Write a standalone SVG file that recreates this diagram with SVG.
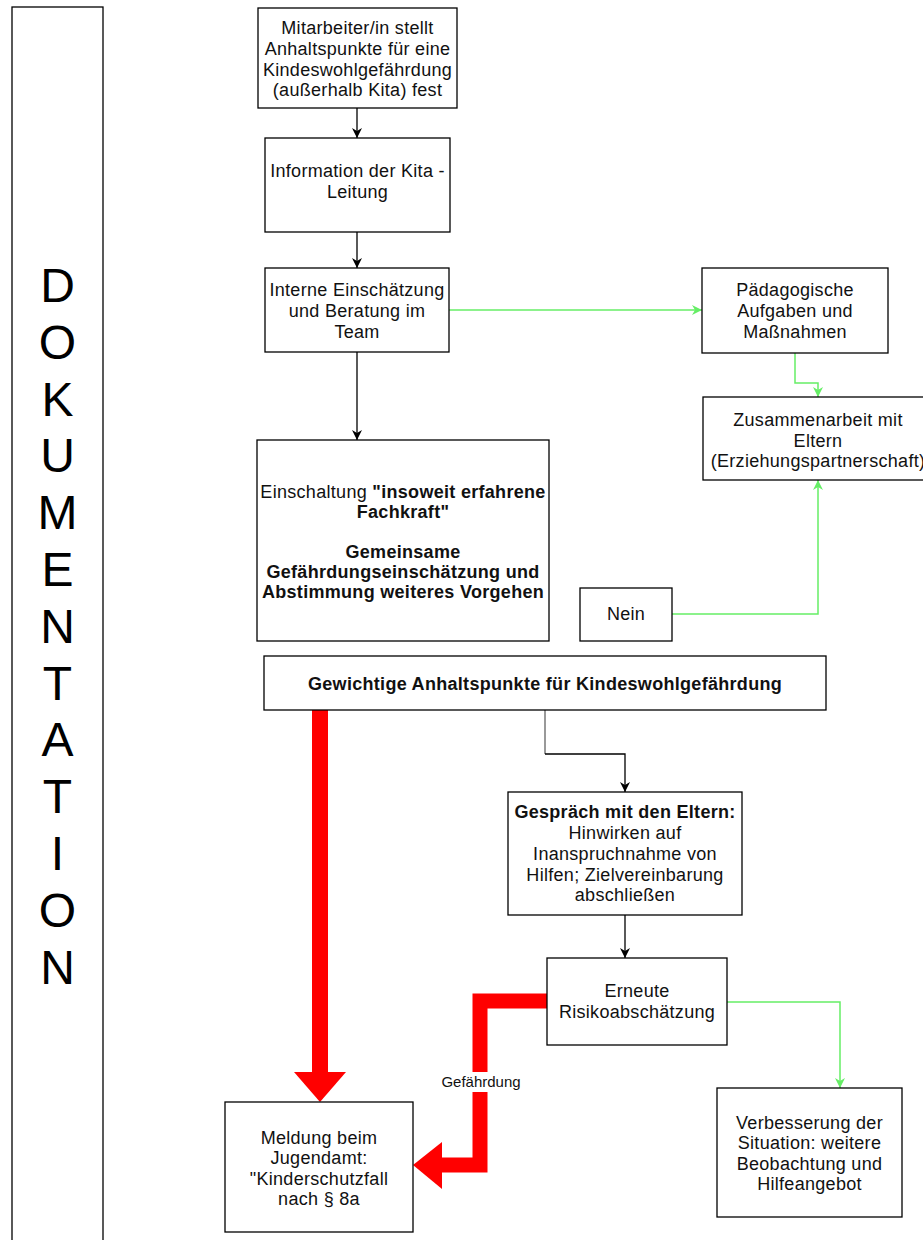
<svg xmlns="http://www.w3.org/2000/svg" width="923" height="1240" viewBox="0 0 923 1240">
<style>
.box{fill:#fff;stroke:#000;stroke-width:1.3}
.t{font-family:"Liberation Sans",Arial,sans-serif;font-size:18px;fill:#111;text-anchor:middle;letter-spacing:0.3px}
.b{font-weight:bold}
.doc{font-family:"Liberation Sans",Arial,sans-serif;font-size:48px;fill:#000;text-anchor:middle}
.blk{fill:none;stroke:#000;stroke-width:1.3}
.grn{fill:none;stroke:#66ee66;stroke-width:1.5}
.red{fill:none;stroke:#ff0000;stroke-width:15;stroke-linejoin:miter}
.lbl{font-family:"Liberation Sans",Arial,sans-serif;font-size:15px;fill:#111;text-anchor:middle}
</style>
<defs>
<marker id="ab" markerUnits="userSpaceOnUse" markerWidth="12" markerHeight="12" viewBox="0 0 12 12" refX="11" refY="6" orient="auto"><path d="M1,1 L11,6 L1,11 L4,6 Z" fill="#000"/></marker>
<marker id="ag" markerUnits="userSpaceOnUse" markerWidth="12" markerHeight="12" viewBox="0 0 12 12" refX="11" refY="6" orient="auto"><path d="M1,1 L11,6 L1,11 L4,6 Z" fill="#66ee66"/></marker>
</defs>
<rect width="923" height="1240" fill="#fff"/>

<g id="dokumentation">
<rect x="12" y="7" width="91" height="1260" class="box"/>
<text class="doc" x="57.5" y="302">D</text>
<text class="doc" x="57.5" y="358.8">O</text>
<text class="doc" x="57.5" y="415.6">K</text>
<text class="doc" x="57.5" y="472.4">U</text>
<text class="doc" x="57.5" y="529.2">M</text>
<text class="doc" x="57.5" y="586">E</text>
<text class="doc" x="57.5" y="642.8">N</text>
<text class="doc" x="57.5" y="699.6">T</text>
<text class="doc" x="57.5" y="756.4">A</text>
<text class="doc" x="57.5" y="813.2">T</text>
<text class="doc" x="57.5" y="870">I</text>
<text class="doc" x="57.5" y="926.8">O</text>
<text class="doc" x="57.5" y="983.6">N</text>
</g>

<g id="connectors">
<path class="blk" d="M357,108 L357,138" marker-end="url(#ab)"/>
<path class="blk" d="M357,232 L357,268" marker-end="url(#ab)"/>
<path class="blk" d="M357,352 L357,440" marker-end="url(#ab)"/>
<path fill="none" stroke="#777" stroke-width="1.5" d="M545,710 L545,754"/>
<path class="blk" d="M545,754 L625,754 L625,792" marker-end="url(#ab)"/>
<path class="blk" d="M625,915 L625,958" marker-end="url(#ab)"/>
<path class="grn" d="M449,310 L702,310" marker-end="url(#ag)"/>
<path class="grn" d="M795,353 L795,383 L818,383 L818,397" marker-end="url(#ag)"/>
<path class="grn" d="M672,614 L818,614 L818,480" marker-end="url(#ag)"/>
<path class="grn" d="M727,1002 L840,1002 L840,1088" marker-end="url(#ag)"/>
<rect x="312" y="710" width="16" height="363" fill="#ff0000"/>
<polygon points="294,1072 346,1072 320,1102" fill="#ff0000"/>
<path class="red" d="M547,1001 L480,1001 L480,1165 L441,1165"/>
<polygon points="442,1142 442,1189 413,1165" fill="#ff0000"/>
<rect x="437" y="1072" width="88" height="20" fill="#fff"/>
<text class="lbl" x="481" y="1087">Gefährdung</text>
</g>

<g id="n1">
<rect x="258" y="8" width="199" height="100" class="box"/>
<text class="t"><tspan x="357.5" y="34">Mitarbeiter/in stellt</tspan><tspan x="357.5" y="55">Anhaltspunkte für eine</tspan><tspan x="357.5" y="76">Kindeswohlgefährdung</tspan><tspan x="357.5" y="96">(außerhalb Kita) fest</tspan></text>
</g>
<g id="n2">
<rect x="265" y="138" width="185" height="94" class="box"/>
<text class="t"><tspan x="357.5" y="177">Information der Kita -</tspan><tspan x="357.5" y="198">Leitung</tspan></text>
</g>
<g id="n3">
<rect x="265" y="268" width="184" height="84" class="box"/>
<text class="t"><tspan x="357" y="296">Interne Einschätzung</tspan><tspan x="357" y="317">und Beratung im</tspan><tspan x="357" y="338">Team</tspan></text>
</g>
<g id="n4">
<rect x="702" y="268" width="186" height="85" class="box"/>
<text class="t"><tspan x="795" y="296">Pädagogische</tspan><tspan x="795" y="317">Aufgaben und</tspan><tspan x="795" y="338">Maßnahmen</tspan></text>
</g>
<g id="n5">
<rect x="703" y="397" width="232" height="83" class="box"/>
<text class="t"><tspan x="818" y="426">Zusammenarbeit mit</tspan><tspan x="818" y="446.5">Eltern</tspan><tspan x="818" y="467">(Erziehungspartnerschaft)</tspan></text>
</g>
<g id="n6">
<rect x="257" y="440" width="292" height="201" class="box"/>
<text class="t"><tspan x="403" y="498">Einschaltung <tspan class="b">"insoweit erfahrene</tspan></tspan><tspan x="403" y="518" class="b">Fachkraft"</tspan><tspan x="403" y="558" class="b">Gemeinsame</tspan><tspan x="403" y="578" class="b">Gefährdungseinschätzung und</tspan><tspan x="403" y="598" class="b">Abstimmung weiteres Vorgehen</tspan></text>
</g>
<g id="n7">
<rect x="580" y="588" width="92" height="53" class="box"/>
<text class="t" x="626" y="620">Nein</text>
</g>
<g id="n8">
<rect x="264" y="656" width="562" height="54" class="box"/>
<text class="t b" x="545" y="689.5">Gewichtige Anhaltspunkte für Kindeswohlgefährdung</text>
</g>
<g id="n9">
<rect x="508" y="792" width="234" height="123" class="box"/>
<text class="t"><tspan x="625" y="818" class="b">Gespräch mit den Eltern:</tspan><tspan x="625" y="839">Hinwirken auf</tspan><tspan x="625" y="860">Inanspruchnahme von</tspan><tspan x="625" y="881">Hilfen; Zielvereinbarung</tspan><tspan x="625" y="901">abschließen</tspan></text>
</g>
<g id="n10">
<rect x="547" y="958" width="180" height="87" class="box"/>
<text class="t"><tspan x="637" y="996.5">Erneute</tspan><tspan x="637" y="1018">Risikoabschätzung</tspan></text>
</g>
<g id="n11">
<rect x="225" y="1102" width="188" height="130" class="box"/>
<text class="t"><tspan x="319" y="1143.5">Meldung beim</tspan><tspan x="319" y="1164">Jugendamt:</tspan><tspan x="319" y="1184.5">"Kinderschutzfall</tspan><tspan x="319" y="1205">nach § 8a</tspan></text>
</g>
<g id="n12">
<rect x="717" y="1088" width="185" height="129" class="box"/>
<text class="t"><tspan x="809.5" y="1128.5">Verbesserung der</tspan><tspan x="809.5" y="1149">Situation: weitere</tspan><tspan x="809.5" y="1169.5">Beobachtung und</tspan><tspan x="809.5" y="1190">Hilfeangebot</tspan></text>
</g>
</svg>
